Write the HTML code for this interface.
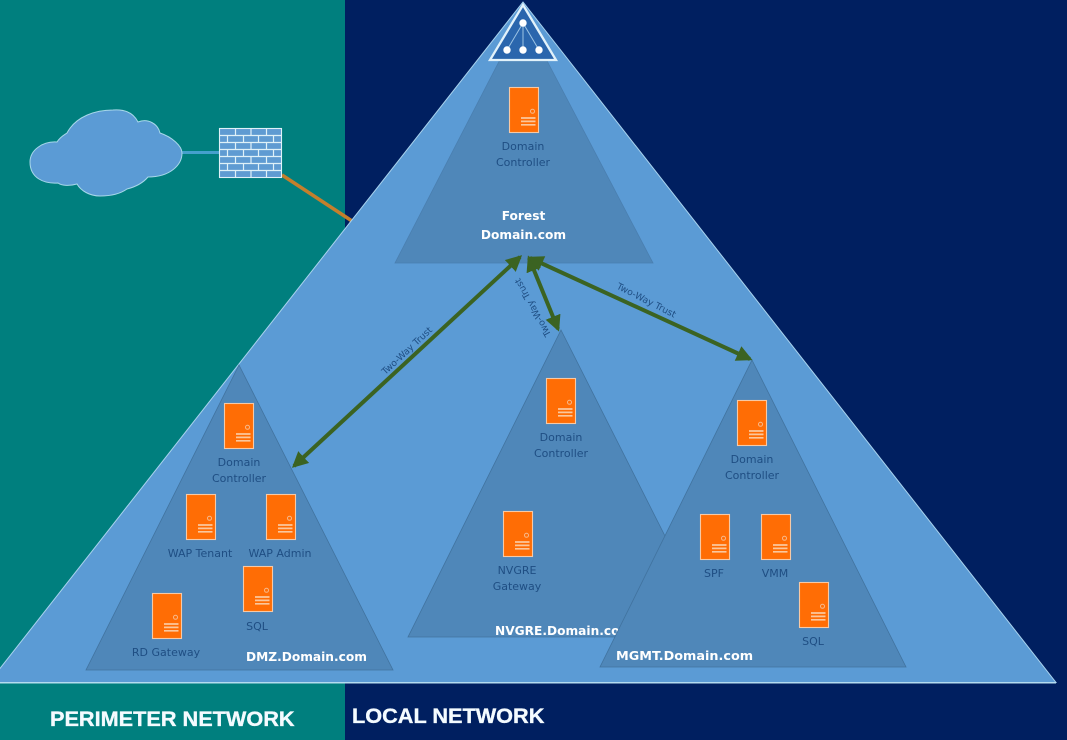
<!DOCTYPE html>
<html><head><meta charset="utf-8"><style>
html,body{margin:0;padding:0;background:#001f60}
svg{display:block}
.l{font-family:"DejaVu Sans","Liberation Sans",sans-serif;font-size:11px;fill:#1f4e83;text-anchor:middle}
.b{font-family:"DejaVu Sans","Liberation Sans",sans-serif;font-size:12.200px;font-weight:bold;fill:#fff}
.h{font-family:"Liberation Sans",sans-serif;font-size:21.700px;font-weight:bold;fill:#f4fbff;stroke:#f4fbff;stroke-width:.35}
</style></head><body>
<svg width="1067" height="740" viewBox="0 0 1067 740" xmlns="http://www.w3.org/2000/svg">
<defs>
<g id="s">
<rect x="0.5" y="0.5" width="29" height="45" fill="#ff6d05" stroke="#f6c9a6" stroke-width="1.100"/>
<circle cx="23.500" cy="24.300" r="2" fill="none" stroke="#f8b98a" stroke-width="1"/>
<path d="M12 31H26.500M12 34.400H26.500M12 37.800H26.500" stroke="#fbc79c" stroke-width="1.700"/>
</g>
<marker id="a" markerWidth="4" markerHeight="4" refX="3.3" refY="2" orient="auto-start-reverse" markerUnits="strokeWidth"><path d="M0 0L4 2L0 4Z" fill="#3b6322"/></marker>
</defs>
<rect width="1067" height="740" fill="#001f60"/>
<rect width="345" height="740" fill="#007f7e"/>
<!-- connectors -->
<path d="M180 152.500H220" stroke="#45a0cc" stroke-width="3"/>
<path d="M282 175L352 221" stroke="#c47f2c" stroke-width="3.500"/>
<!-- cloud -->
<path d="M57 142C60 137 64 135 67 133C76 116 96 110 113 110C126 109 134 114 138 122C148 118 158 124 160 133C172 137 182 146 182 153C182 165 170 177 148 177C142 184 135 187 127 189C120 194 110 196 100 196C90 196 81 191 77 184C70 186 62 186 58 183C44 184 30 178 30 162C30 150 43 141 57 142Z" fill="#5b9bd5" stroke="#a8d8ea" stroke-width="1"/>
<!-- firewall -->
<rect x="219.500" y="128.500" width="62" height="49" fill="#5f9bd2" stroke="#dff1f8" stroke-width="1.100"/>
<path d="M219 135.500H282M219 142.500H282M219 149.500H282M219 156.500H282M219 163.500H282M219 170.500H282
M235.500 128V135.500M251 128V135.500M266.500 128V135.500
M227.500 135.500V142.500M243.500 135.500V142.500M258.500 135.500V142.500M273.500 135.500V142.500
M235.500 142.500V149.500M251 142.500V149.500M266.500 142.500V149.500
M227.500 149.500V156.500M243.500 149.500V156.500M258.500 149.500V156.500M273.500 149.500V156.500
M235.500 156.500V163.500M251 156.500V163.500M266.500 156.500V163.500
M227.500 163.500V170.500M243.500 163.500V170.500M258.500 163.500V170.500M273.500 163.500V170.500
M235.500 170.500V178M251 170.500V178M266.500 170.500V178" stroke="#dff1f8" stroke-width="1.200" fill="none"/>
<!-- main triangle -->
<path d="M523 2L1056 682.500H-11Z" fill="#5b9bd5" stroke="#a9d3ee" stroke-width="1"/>
<rect x="0" y="682" width="1056" height="1.500" fill="#b5dcf0"/>
<!-- inner triangles -->
<path d="M523 15L653 263H395Z" fill="#4f87b9" stroke="#4a7fb0" stroke-width="0.800"/>
<path d="M239 365L393 670H86Z" fill="#4f87b9" stroke="#41739f" stroke-width="0.800"/>
<path d="M561 330L716 637H408Z" fill="#4f87b9" stroke="#41739f" stroke-width="0.800"/>
<text class="b" x="495" y="635">NVGRE.Domain.com</text>
<path d="M752 360L906 667H600Z" fill="#4f87b9" stroke="#41739f" stroke-width="0.800"/>
<!-- apex icon -->
<path d="M523 5L556 60H490Z" fill="#2a66ad" stroke="#e2f2fa" stroke-width="2.300"/>
<path d="M523 23L507 50M523 23V50M523 23L539 50" stroke="#9cc4e4" stroke-width="1" fill="none"/>
<circle cx="523" cy="23" r="3.700" fill="#fff"/><circle cx="507" cy="50" r="3.700" fill="#fff"/><circle cx="523" cy="50" r="3.700" fill="#fff"/><circle cx="539" cy="50" r="3.700" fill="#fff"/>
<!-- servers -->
<use href="#s" x="509" y="87"/>
<use href="#s" x="224" y="403"/><use href="#s" x="186" y="494"/><use href="#s" x="266" y="494"/><use href="#s" x="243" y="566"/><use href="#s" x="152" y="593"/>
<use href="#s" x="546" y="378"/><use href="#s" x="503" y="511"/>
<use href="#s" x="737" y="400"/><use href="#s" x="700" y="514"/><use href="#s" x="761" y="514"/><use href="#s" x="799" y="582"/>
<!-- labels -->
<text class="l" x="523" y="150">Domain</text><text class="l" x="523" y="166">Controller</text>
<text class="l" x="239" y="466">Domain</text><text class="l" x="239" y="482">Controller</text>
<text class="l" x="200" y="557">WAP Tenant</text><text class="l" x="280" y="557">WAP Admin</text>
<text class="l" x="257" y="630">SQL</text><text class="l" x="166" y="656">RD Gateway</text>
<text class="l" x="561" y="441">Domain</text><text class="l" x="561" y="457">Controller</text>
<text class="l" x="517" y="574">NVGRE</text><text class="l" x="517" y="590">Gateway</text>
<text class="l" x="752" y="463">Domain</text><text class="l" x="752" y="479">Controller</text>
<text class="l" x="714" y="577">SPF</text><text class="l" x="775" y="577">VMM</text><text class="l" x="813" y="645">SQL</text>
<text class="b" x="523.500" y="220" text-anchor="middle">Forest</text>
<text class="b" x="523.500" y="239" text-anchor="middle">Domain.com</text>
<text class="b" x="246" y="661">DMZ.Domain.com</text>
<text class="b" x="616" y="660" style="font-size:12.800px">MGMT.Domain.com</text>
<text class="h" x="50" y="726">PERIMETER NETWORK</text>
<text class="h" x="352" y="723">LOCAL NETWORK</text>
<!-- trust arrows -->
<g stroke="#3b6322" stroke-width="4" fill="none">
<path d="M294 466L520 257" marker-start="url(#a)" marker-end="url(#a)"/>
<path d="M529 258L558 329" marker-start="url(#a)" marker-end="url(#a)"/>
<path d="M530 258L750 359" marker-start="url(#a)" marker-end="url(#a)"/>
</g>
<g font-family="DejaVu Sans,Liberation Sans,sans-serif" font-size="9.200" fill="#1f4e83" text-anchor="middle">
<text transform="translate(409 353) rotate(-43)">Two-Way Trust</text>
<text transform="translate(535.500 306) rotate(-119)">Two-Way Trust</text>
<text transform="translate(645 303) rotate(27)">Two-Way Trust</text>
</g>
</svg>
</body></html>
